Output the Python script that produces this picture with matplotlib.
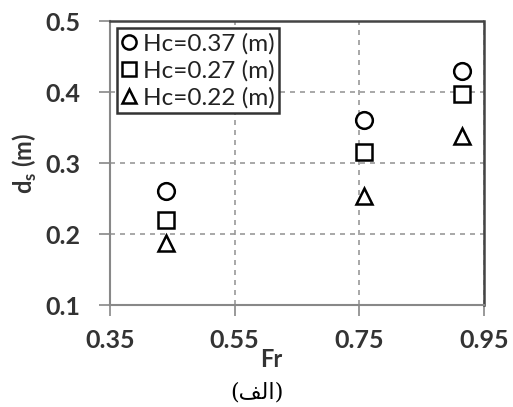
import matplotlib
matplotlib.use("Agg")
import matplotlib.pyplot as plt

fr = [0.44, 0.757, 0.915]
hc37 = [0.26, 0.36, 0.43]
hc27 = [0.22, 0.315, 0.397]
hc22 = [0.188, 0.253, 0.338]
labels = ["Hc=0.37 (m)", "Hc=0.27 (m)", "Hc=0.22 (m)"]
xticks = [0.35, 0.55, 0.75, 0.95]
yticks = [0.1, 0.2, 0.3, 0.4, 0.5]
caption = "(\ufed2\ufedf\u0627)"

fam = "Lato"

fig = plt.figure(figsize=(5.13, 4.07), dpi=100)
ax = fig.add_axes([0.2144, 0.2506, 0.7291, 0.6978])

mk = dict(ls="none", mfc="white", mec="black", mew=1.8, ms=12)
ax.plot(fr, hc37, marker="o", label=labels[0], **mk)
ax.plot(fr, hc27, marker="s", label=labels[1], **dict(mk, ms=11.5))
ax.plot(fr, hc22, marker="^", label=labels[2], **mk)

ax.set_xlim(0.35, 0.95)
ax.set_ylim(0.1, 0.5)
ax.set_xticks(xticks)
ax.set_yticks(yticks)
ax.set_xticklabels([f"{v:.2f}" for v in xticks], fontsize=18, fontweight="bold",
                   family=fam, color="#333333")
ax.set_yticklabels([f"{v:.1f}" for v in yticks], fontsize=18, fontweight="bold",
                   family=fam, color="#333333")
ax.tick_params(axis="x", direction="out", length=8, width=1.2, color="#888888", pad=9)
ax.tick_params(axis="y", direction="out", length=8, width=1.2, color="#888888", pad=13)

ax.grid(True, ls=(0, (3, 3)), color="#999999", lw=1.2)
ax.set_axisbelow(True)
for s in ["left", "bottom"]:
    ax.spines[s].set_color("#888888")
    ax.spines[s].set_linewidth(1.5)
ax.spines["right"].set_color("#444444")
ax.spines["right"].set_linewidth(1.8)
ax.spines["top"].set_color("#444444")
ax.spines["top"].set_linewidth(1.8)
ax.spines["top"].set_linestyle((0, (2, 1)))

ax.set_ylabel(r"d$_\mathregular{s}$ (m)", fontsize=17, fontweight="bold", family=fam,
              color="#333333")
ax.yaxis.set_label_coords(-0.19, 0.5)
ax.set_xlabel("Fr", fontsize=17, fontweight="bold", family=fam, color="#333333")
ax.xaxis.set_label_coords(0.43, -0.15)

leg = ax.legend(loc="upper left", bbox_to_anchor=(0.0, 1.0), frameon=True, fancybox=False,
                edgecolor="#333333", framealpha=1, handlelength=0.6, handletextpad=0.25,
                borderpad=0.2, labelspacing=0.22, borderaxespad=0.3, markerscale=0.85,
                prop=dict(family=fam, size=17.5))
leg.get_frame().set_linewidth(1.8)
for t in leg.get_texts():
    t.set_color("#222222")

fig.text(0.501, 0.02, caption, ha="center", va="baseline", fontsize=16,
         family=["DejaVu Serif", "DejaVu Sans"])

fig.savefig("out.png", dpi=100)
